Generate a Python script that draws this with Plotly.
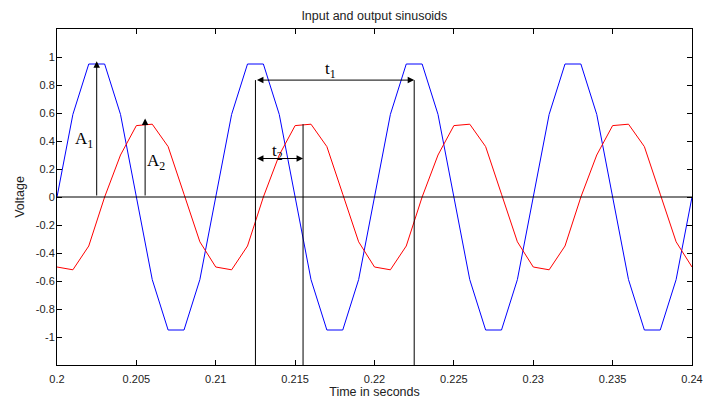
import plotly.graph_objects as go

# sample times (1 ms steps from 0.200 s to 0.240 s)
t_ms = list(range(200, 241))
time_s = [v / 1000 for v in t_ms]

# input sinusoid (blue), one period repeated
input_period = [0.0, 0.59, 0.95, 0.95, 0.59, 0.0, -0.59, -0.95, -0.95, -0.59]
input_v = input_period * 4 + [0.0]

# output sinusoid (red)
output_period = [-0.50, -0.52, -0.35, 0.0, 0.30, 0.51, 0.52, 0.36, 0.02, -0.32]
output_v = output_period * 4 + [-0.50]

x_ticks = [0.2, 0.205, 0.21, 0.215, 0.22, 0.225, 0.23, 0.235, 0.24]
x_tick_text = ["0.2", "0.205", "0.21", "0.215", "0.22", "0.225", "0.23", "0.235", "0.24"]
y_ticks = [-1, -0.8, -0.6, -0.4, -0.2, 0, 0.2, 0.4, 0.6, 0.8, 1]
y_tick_text = ["-1", "-0.8", "-0.6", "-0.4", "-0.2", "0", "0.2", "0.4", "0.6", "0.8", "1"]

fig = go.Figure()
fig.add_trace(go.Scatter(x=time_s, y=input_v, mode="lines",
                         line=dict(color="#0000ff", width=1), showlegend=False))
fig.add_trace(go.Scatter(x=time_s, y=output_v, mode="lines",
                         line=dict(color="#ff0000", width=1), showlegend=False))

black = dict(color="black", width=1)
# zero line
fig.add_shape(type="line", x0=0.2, x1=0.24, y0=0, y1=0, line=black)
# vertical markers
fig.add_shape(type="line", x0=0.2125, x1=0.2125, y0=0.835, y1=-1.2, line=black)
fig.add_shape(type="line", x0=0.2225, x1=0.2225, y0=0.835, y1=-1.2, line=black)
fig.add_shape(type="line", x0=0.2155, x1=0.2155, y0=0.52, y1=-1.2, line=black)

serif = dict(family="Liberation Serif, Times New Roman, serif", size=17, color="black")
anns = [
    # A1 arrow
    dict(x=0.2025, y=0.97, ax=0.2025, ay=0, xref="x", yref="y", axref="x", ayref="y",
         showarrow=True, arrowhead=2, arrowsize=1.3, arrowwidth=1, arrowcolor="black", text=""),
    # A2 arrow
    dict(x=0.20555, y=0.56, ax=0.20555, ay=0, xref="x", yref="y", axref="x", ayref="y",
         showarrow=True, arrowhead=2, arrowsize=1.3, arrowwidth=1, arrowcolor="black", text=""),
    # t1 double arrow
    dict(x=0.2225, y=0.835, ax=0.2125, ay=0.835, xref="x", yref="y", axref="x", ayref="y",
         showarrow=True, arrowhead=2, startarrowhead=2, arrowside="end+start",
         arrowsize=1.3, startarrowsize=1.3, arrowwidth=1, arrowcolor="black", text=""),
    # t2 double arrow
    dict(x=0.2155, y=0.275, ax=0.2125, ay=0.275, xref="x", yref="y", axref="x", ayref="y",
         showarrow=True, arrowhead=2, startarrowhead=2, arrowside="end+start",
         arrowsize=1.3, startarrowsize=1.3, arrowwidth=1, arrowcolor="black", text=""),
    dict(x=0.2017, y=0.41, xref="x", yref="y", text="A<sub>1</sub>", showarrow=False, font=serif),
    dict(x=0.20625, y=0.25, xref="x", yref="y", text="A<sub>2</sub>", showarrow=False, font=serif),
    dict(x=0.2172, y=0.91, xref="x", yref="y", text="t<sub>1</sub>", showarrow=False, font=serif),
    dict(x=0.2139, y=0.32, xref="x", yref="y", text="t<sub>2</sub>", showarrow=False, font=serif),
]
for a in anns:
    fig.add_annotation(**a)

tick_font = dict(family="Liberation Sans, Arial", size=11, color="#222")
title_font = dict(family="Liberation Sans, Arial", size=12.5, color="#222")
axis_common = dict(showline=True, linecolor="black", linewidth=1, mirror="ticks",
                   ticks="inside", ticklen=5, tickcolor="black", showgrid=False,
                   zeroline=False, automargin=False, tickfont=tick_font)
fig.update_xaxes(range=[0.2, 0.24], tickvals=x_ticks, ticktext=x_tick_text, ticklabelstandoff=4,
                 title=dict(text="Time in seconds", font=title_font, standoff=2),
                 **axis_common)
fig.update_yaxes(range=[-1.2, 1.2], tickvals=y_ticks, ticktext=y_tick_text, ticklabelstandoff=-1,
                 title=dict(text="Voltage", font=title_font, standoff=8),
                 **axis_common)

fig.update_layout(
    width=705, height=400,
    margin=dict(l=57, r=13, t=29, b=35, autoexpand=False),
    plot_bgcolor="white", paper_bgcolor="white",
    title=dict(text="Input and output sinusoids", x=0.531, xanchor="center", y=0.962, yanchor="middle",
               font=title_font),
)

fig.write_html("out.html", config={"displayModeBar": False},
               post_script="document.body.style.margin='0';document.body.style.overflow='hidden';")
